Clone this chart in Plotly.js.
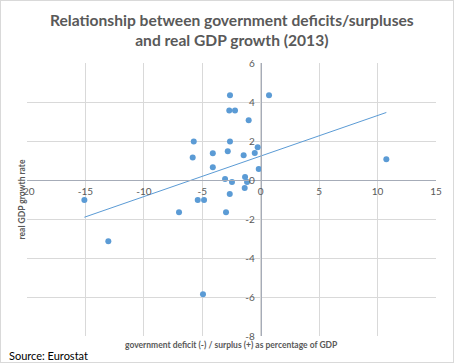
<!DOCTYPE html>
<html>
<head>
<meta charset="utf-8">
<script src="https://cdn.plot.ly/plotly-3.0.1.min.js"></script>
<style>
html,body{margin:0;padding:0;background:#fff;}
#chart{width:454px;height:363px;}
#frame{position:absolute;left:0;top:0;width:452px;height:361px;border:1px solid #d9d9d9;pointer-events:none;}
</style>
</head>
<body>
<div id="chart"></div>
<div id="frame"></div>
<script>
// government deficit (-) / surplus (+) as % of GDP
const deficit = [-15.09, -13.04, -6.99, -5.73, -5.82, -5.39, -4.85, -4.94, -4.10, -4.10,
                 -3.05, -2.97, -2.82, -2.65, -2.63, -2.69, -2.20, -2.63, -2.46, -1.46,
                 -1.34, -1.37, -1.17, -1.03, -0.51, -0.26, -0.17, 0.71, 10.75];
// real GDP growth rate (%)
const growth  = [-1.03, -3.14, -1.66, 1.98, 1.16, -1.03, -1.03, -5.86, 1.37, 0.65,
                 0.05, -1.66, 1.47, -0.72, 4.34, 3.57, 3.57, 1.98, -0.10, 1.27,
                 0.15, -0.41, -0.10, 3.06, 1.38, 1.68, 0.56, 4.34, 1.06];
const xTicks = [-20, -15, -10, -5, 0, 5, 10, 15];
const yTicks = [-8, -6, -4, -2, 0, 2, 4, 6];
const titleText = 'Relationship between government deficits/surpluses<br>and real GDP growth (2013)';
const xTitle = 'government deficit (-) / surplus (+) as percentage of GDP';
const yTitle = 'real GDP growth rate';
const sourceText = 'Source: Eurostat';

// linear trendline (least squares) from the data
const n = deficit.length;
const mx = deficit.reduce((a,b)=>a+b,0)/n;
const my = growth.reduce((a,b)=>a+b,0)/n;
let sxy=0, sxx=0;
for(let i=0;i<n;i++){sxy+=(deficit[i]-mx)*(growth[i]-my);sxx+=(deficit[i]-mx)**2;}
const slope = sxy/sxx, intercept = my - slope*mx;
const xmin = Math.min(...deficit), xmax = Math.max(...deficit);
const trendX = [xmin, xmax];
const trendY = trendX.map(v=>intercept+slope*v);

const font = 'Lato, Carlito, Calibri, sans-serif';
const traces = [
  {x: trendX, y: trendY, mode:'lines', line:{color:'#5b9bd5', width:1}, hoverinfo:'skip'},
  {x: deficit, y: growth, mode:'markers', marker:{color:'#5b9bd5', size:6}}
];
const PH = 273, PW = 409;
const layout = {
  width:454, height:363,
  margin:{l:27, r:18, t:63, b:27},
  paper_bgcolor:'#fff', plot_bgcolor:'#fff',
  showlegend:false,
  font:{family:font, color:'#595959', size:10},
  xaxis:{range:[-20,15], tickvals:xTicks, ticktext:xTicks.map(String),
         showgrid:true, gridcolor:'#d9d9d9', gridwidth:1, zeroline:false,
         showline:true, linecolor:'#a6acb8', linewidth:1,
         anchor:'free', position:8/14, ticks:'', ticklabelstandoff:2,
         tickfont:{size:10, color:'#595959'}, fixedrange:true,
         title:{text:''}},
  yaxis:{range:[-8,6], tickvals:yTicks, ticktext:yTicks.map(String),
         showgrid:true, gridcolor:'#d9d9d9', gridwidth:1, zeroline:false,
         showline:true, linecolor:'#a6acb8', linewidth:1,
         anchor:'free', position:20/35, ticks:'', ticklabelstandoff:4,
         tickfont:{size:10, color:'#595959'}, fixedrange:true,
         title:{text:''}},
  annotations:[
    {text:'<b>'+titleText+'</b>', xref:'paper', yref:'paper', x:0.5, y:(336-30)/PH,
     xanchor:'center', yanchor:'middle', showarrow:false,
     font:{size:15.6, color:'#595959'}},
    {text:'<b>'+xTitle+'</b>', xref:'paper', yref:'paper', x:0.5, y:(336-345)/PH, xanchor:'center', yanchor:'middle',
     showarrow:false, font:{size:8.5, color:'#595959'}},
    {text:'<b>'+yTitle+'</b>', xref:'paper', yref:'paper', x:(21-27)/PW, y:0.5, xanchor:'center', yanchor:'middle',
     textangle:-90, showarrow:false, font:{size:8.5, color:'#595959'}},
    {text:sourceText, xref:'paper', yref:'paper', x:(7-27)/PW, y:(336-355)/PH, xanchor:'left', yanchor:'middle',
     showarrow:false, font:{size:11, color:'#000'}}
  ]
};
Plotly.newPlot('chart', traces, layout, {displayModeBar:false, staticPlot:true});
</script>
</body>
</html>
